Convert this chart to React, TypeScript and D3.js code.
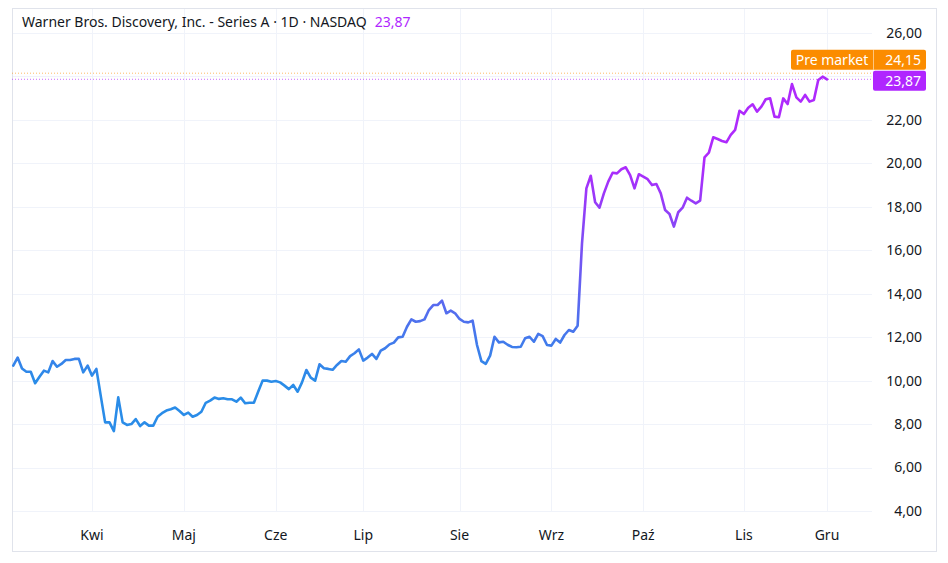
// @ts-nocheck
import React from "react";
import * as d3 from "d3";

// daily closes, WBD, early March .. 1 Dec
const closes = [
  10.69, 11.06, 10.56, 10.41, 10.41, 9.88, 10.18, 10.46, 10.38, 10.9,
  10.64, 10.77, 10.95, 10.95, 11.0, 11.0, 10.38, 10.69, 10.23, 10.54,
  9.3, 8.08, 8.08, 7.68, 9.23, 8.08, 7.96, 8.0, 8.23, 7.91,
  8.08, 7.93, 7.93, 8.34, 8.5, 8.62, 8.68, 8.76, 8.6, 8.42,
  8.53, 8.34, 8.42, 8.57, 8.98, 9.08, 9.22, 9.16, 9.19, 9.14,
  9.14, 9.03, 9.22, 8.96, 8.98, 8.98, 9.5, 10.0, 10.0, 9.95,
  9.98, 9.92, 9.77, 9.61, 9.8, 9.49, 9.92, 10.49, 10.14, 10.0,
  10.75, 10.57, 10.54, 10.5, 10.72, 10.9, 10.87, 11.13, 11.26, 11.44,
  10.92, 11.06, 11.23, 11.0, 11.38, 11.49, 11.67, 11.75, 11.99, 12.02,
  12.48, 12.82, 12.71, 12.74, 12.82, 13.25, 13.48, 13.48, 13.68, 13.1,
  13.22, 13.1, 12.84, 12.71, 12.68, 12.76, 11.64, 10.9, 10.77, 11.15,
  12.02, 11.76, 11.79, 11.65, 11.55, 11.54, 11.56, 11.95, 12.02, 11.79,
  12.15, 12.05, 11.64, 11.61, 11.92, 11.75, 12.1, 12.33, 12.25, 12.53,
  16.32, 18.85, 19.43, 18.21, 17.96, 18.62, 19.16, 19.57, 19.54, 19.73,
  19.82, 19.46, 18.85, 19.5, 19.39, 19.27, 19.0, 19.05, 18.62, 17.85,
  17.67, 17.09, 17.75, 17.96, 18.42, 18.28, 18.16, 18.28, 20.28, 20.49,
  21.2, 21.12, 21.03, 20.97, 21.31, 21.54, 22.42, 22.27, 22.56, 22.72,
  22.38, 22.61, 22.95, 22.99, 22.15, 22.12, 22.99, 22.73, 23.65, 23.04,
  22.84, 23.15, 22.84, 22.92, 23.84, 23.99, 23.87,
];

const monthLabels = ["Kwi", "Maj", "Cze", "Lip", "Sie", "Wrz", "Paź", "Lis", "Gru"];
const monthStart = [18, 39, 60, 80, 102, 123, 144, 167, 186];
const priceTicks = [4, 6, 8, 10, 12, 14, 16, 18, 20, 22, 24, 26];

const title = "Warner Bros. Discovery, Inc. - Series A · 1D · NASDAQ";
const lastPrice = 23.87;
const preMarket = 24.15;

const W = 948;
const H = 563;
const FONT = "'Noto Sans', 'Open Sans', sans-serif";
const FS = 14;
const TEXT = "#131722";
const GRID = "#f0f3fa";
const PURPLE = "#b026ff";
const ORANGE = "#fb8c00";

const fmt = (v) => d3.format(".2f")(v).replace(".", ",");

const App = () => {
  const svgRef = React.useRef(null);

  React.useEffect(() => {
    const frame = { left: 12, right: 936, top: 8, bottom: 551 };
    const plotRight = 872;

    const xScale = d3.scaleLinear().domain([0, 196]).range([13.25, 870.75]);
    const yScale = d3.scaleLinear().domain([4, 26]).range([511, 33]);

    const lastY = yScale(lastPrice) + 1.5;
    const preY = lastY - 21;

    const svg = d3.select(svgRef.current);
    svg.selectAll("*").remove();

    const defs = svg.append("defs");
    const grad = defs.append("linearGradient")
      .attr("id", "lineGrad")
      .attr("gradientUnits", "userSpaceOnUse")
      .attr("x1", 0).attr("x2", 0)
      .attr("y1", yScale(10)).attr("y2", yScale(20));
    grad.append("stop").attr("offset", "0%").attr("stop-color", "#2a8ce8");
    grad.append("stop").attr("offset", "100%").attr("stop-color", "#ae2afc");

    svg.append("rect")
      .attr("width", W).attr("height", H).attr("fill", "#ffffff");

    // horizontal grid
    svg.append("g").selectAll("line")
      .data(priceTicks)
      .enter().append("line")
      .attr("x1", frame.left).attr("x2", plotRight)
      .attr("y1", (d) => Math.round(yScale(d)) + 0.5)
      .attr("y2", (d) => Math.round(yScale(d)) + 0.5)
      .attr("stroke", GRID);

    // vertical grid
    svg.append("g").selectAll("line")
      .data(monthStart)
      .enter().append("line")
      .attr("x1", (d) => Math.round(xScale(d)) + 0.5)
      .attr("x2", (d) => Math.round(xScale(d)) + 0.5)
      .attr("y1", frame.top).attr("y2", yScale(4))
      .attr("stroke", GRID);

    // frame
    svg.append("rect")
      .attr("x", frame.left + 0.5).attr("y", frame.top + 0.5)
      .attr("width", frame.right - frame.left).attr("height", frame.bottom - frame.top)
      .attr("fill", "none").attr("stroke", "#e0e3eb");

    // price axis labels (the ones under the price badges are hidden)
    svg.append("g").selectAll("text")
      .data(priceTicks.filter((d) => Math.abs(yScale(d) - lastY) > 14 && Math.abs(yScale(d) - preY) > 14))
      .enter().append("text")
      .attr("x", 922)
      .attr("y", (d) => yScale(d))
      .attr("dy", "0.35em")
      .attr("text-anchor", "end")
      .attr("font-family", FONT)
      .attr("font-size", FS)
      .attr("fill", TEXT)
      .text((d) => fmt(d));

    // month labels
    svg.append("g").selectAll("text")
      .data(monthStart)
      .enter().append("text")
      .attr("x", (d) => xScale(d))
      .attr("y", 535)
      .attr("dy", "0.35em")
      .attr("text-anchor", "middle")
      .attr("font-family", FONT)
      .attr("font-size", FS)
      .attr("fill", TEXT)
      .text((d, i) => monthLabels[i]);

    // dotted price lines
    svg.append("line")
      .attr("x1", frame.left).attr("x2", 873)
      .attr("y1", yScale(preMarket)).attr("y2", yScale(preMarket))
      .attr("stroke", ORANGE).attr("stroke-opacity", 0.6)
      .attr("stroke-dasharray", "1 2");
    svg.append("line")
      .attr("x1", frame.left).attr("x2", 873)
      .attr("y1", yScale(lastPrice)).attr("y2", yScale(lastPrice))
      .attr("stroke", PURPLE).attr("stroke-opacity", 0.7)
      .attr("stroke-dasharray", "1 2");

    // price line
    const line = d3.line()
      .x((d, i) => xScale(i))
      .y((d) => yScale(d));
    svg.append("path")
      .datum(closes)
      .attr("fill", "none")
      .attr("stroke", "url(#lineGrad)")
      .attr("stroke-width", 2.6)
      .attr("stroke-linejoin", "round")
      .attr("stroke-linecap", "round")
      .attr("d", line);

    // last price label
    svg.append("rect")
      .attr("x", 873).attr("y", lastY - 10)
      .attr("width", 53).attr("height", 20)
      .attr("rx", 2)
      .attr("fill", PURPLE);
    svg.append("text")
      .attr("x", 921).attr("y", lastY).attr("dy", "0.35em")
      .attr("text-anchor", "end")
      .attr("font-family", FONT).attr("font-size", FS)
      .attr("fill", "#ffffff")
      .text(fmt(lastPrice));

    // pre-market label, pushed up above the last price label
    svg.append("rect")
      .attr("x", 791).attr("y", preY - 10)
      .attr("width", 135).attr("height", 20)
      .attr("rx", 2)
      .attr("fill", ORANGE);
    svg.append("line")
      .attr("x1", 873.5).attr("x2", 873.5)
      .attr("y1", preY - 10).attr("y2", preY + 10)
      .attr("stroke", "#ffffff").attr("stroke-opacity", 0.5);
    svg.append("text")
      .attr("x", 832).attr("y", preY).attr("dy", "0.35em")
      .attr("text-anchor", "middle")
      .attr("font-family", FONT).attr("font-size", FS)
      .attr("fill", "#ffffff")
      .text("Pre market");
    svg.append("text")
      .attr("x", 921).attr("y", preY).attr("dy", "0.35em")
      .attr("text-anchor", "end")
      .attr("font-family", FONT).attr("font-size", FS)
      .attr("fill", "#ffffff")
      .text(fmt(preMarket));

    // title
    const t = svg.append("text")
      .attr("x", 22).attr("y", 27)
      .attr("font-family", FONT).attr("font-size", FS)
      .attr("fill", TEXT);
    t.append("tspan").text(title);
    t.append("tspan").attr("dx", 8).attr("fill", PURPLE).text(fmt(lastPrice));
  }, []);

  return (
    <>
      <style>{`body{margin:0}`}</style>
      <svg ref={svgRef} width={W} height={H} style={{ display: "block" }} />
    </>
  );
};

export default App;
